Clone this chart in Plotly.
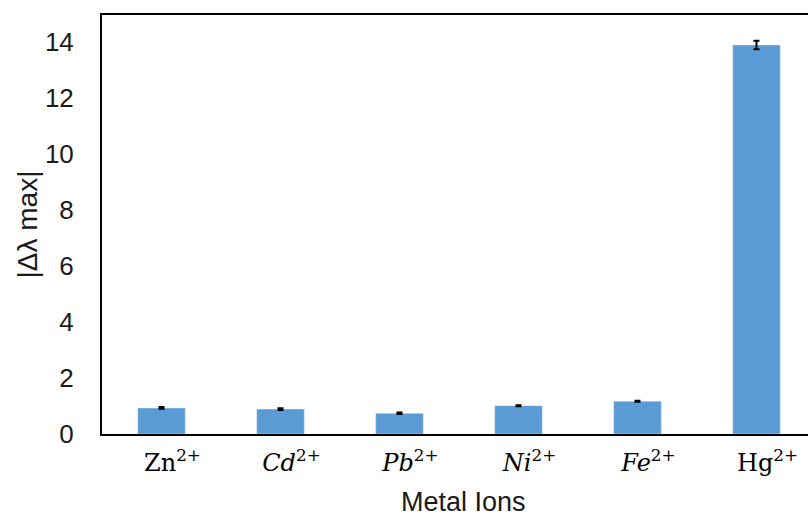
import plotly.graph_objects as go

categories = ["Zn<sup>2+</sup>", "<i>Cd</i><sup>2+</sup>", "<i>Pb</i><sup>2+</sup>",
              "<i>Ni</i><sup>2+</sup>", "<i>Fe</i><sup>2+</sup>", "Hg<sup>2+</sup>"]
values = [0.93, 0.89, 0.74, 1.01, 1.17, 13.89]
errors = [0.03, 0.03, 0.03, 0.02, 0.02, 0.15]
y_ticks = [0, 2, 4, 6, 8, 10, 12, 14]
x_title = "Metal Ions"
y_title = "|Δλ max|"

fig = go.Figure()
fig.add_trace(go.Bar(
    x=list(range(len(categories))), y=values,
    marker=dict(color="#5B9BD5"),
    width=0.4,
    error_y=dict(type="data", array=errors, visible=True, color="black", thickness=2, width=3),
))

fig.update_layout(
    width=808, height=518,
    margin=dict(l=102, r=0, t=15, b=84),
    plot_bgcolor="white", paper_bgcolor="white",
    showlegend=False,
    font=dict(family="Arial, Liberation Sans", color="#1a1a1a"),
)
fig.update_xaxes(
    range=[-0.5, 5.433],
    tickmode="array", tickvals=list(range(len(categories))), ticktext=categories,
    tickfont=dict(family="DejaVu Serif", size=24, color="black"),
    ticklabelshift=11, ticklabelstandoff=6,
    showline=True, linecolor="black", linewidth=2, mirror=True,
    showgrid=False, ticks="",
)
fig.update_yaxes(
    range=[0, 14.96],
    tickmode="array", tickvals=y_ticks,
    tickfont=dict(size=26, family="Arial, Liberation Sans", color="#1a1a1a"),
    ticklabelstandoff=21,
    showline=True, linecolor="black", linewidth=2,
    showgrid=False, zeroline=False, ticks="",
)
fig.add_annotation(
    text=x_title, xref="paper", yref="paper", x=0.5, y=0,
    xanchor="center", yanchor="middle", xshift=8, yshift=-68,
    showarrow=False, font=dict(size=27, family="Arial, Liberation Sans", color="#1a1a1a"),
)
fig.add_annotation(
    text=y_title, xref="paper", yref="paper", x=0, y=0.5,
    xanchor="center", yanchor="middle", xshift=-75, textangle=-90,
    showarrow=False, font=dict(size=28, family="Arial, Liberation Sans", color="#1a1a1a"),
)

fig.write_html("out.html")
